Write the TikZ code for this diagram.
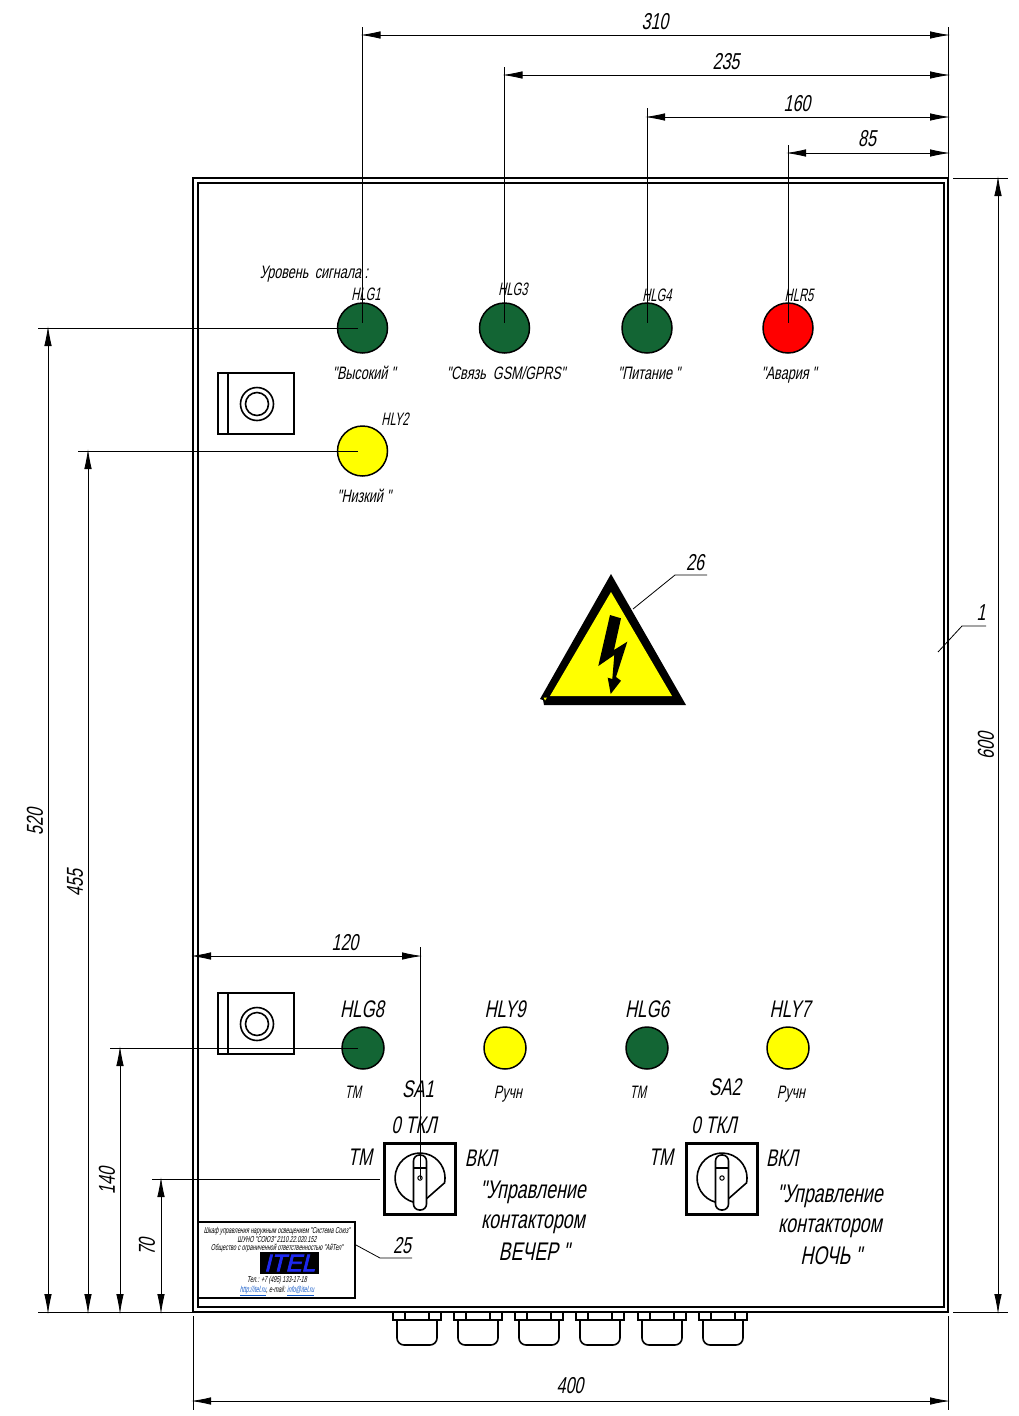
\documentclass[tikz,border=0pt]{standalone}
\usepackage{fontspec}
\setmainfont{Liberation Sans}
\newfontfamily\gostfont[FakeStretch=0.62,FakeSlant=0.2]{Liberation Sans}
\newfontfamily\widefont[FakeStretch=0.7,FakeSlant=0.2]{Liberation Sans}
\newfontfamily\logofont[FakeStretch=1.0,FakeSlant=0.25,FakeBold=3]{Liberation Sans}
\usetikzlibrary{arrows.meta, calc}
\definecolor{LampGreen}{RGB}{19,101,52}
\definecolor{LampYellow}{RGB}{255,255,0}
\definecolor{LampRed}{RGB}{255,0,0}
\definecolor{LogoBlue}{RGB}{30,40,240}
\definecolor{LinkBlue}{RGB}{20,90,200}
\tikzstyle{lamp} = [circle, draw=black, line width=1.5pt, inner sep=0pt, minimum size=50pt]
\tikzstyle{smalllamp} = [lamp, minimum size=42pt]
\tikzstyle{dimline} = [line width=0.8pt, shorten <=-2pt, shorten >=-2pt, {Latex[length=20pt,width=7.5pt]}-{Latex[length=20pt,width=7.5pt]}]
\tikzstyle{extline} = [line width=0.8pt]
\tikzstyle{outline} = [line width=2pt]
\tikzstyle{partline} = [line width=1.6pt]
\tikzstyle{dimtext} = [font=\widefont\fontsize{23}{23}\selectfont, inner sep=0pt]
\tikzstyle{tagtext} = [font=\gostfont\fontsize{18}{18}\selectfont, inner sep=0pt]
\tikzstyle{wordtext} = [font=\widefont\fontsize{18}{18}\selectfont, inner sep=0pt]
\tikzstyle{bigtag} = [font=\widefont\fontsize{24}{24}\selectfont, inner sep=0pt]
\tikzstyle{swtext} = [font=\widefont\fontsize{25.5}{25.5}\selectfont, inner sep=0pt]
\tikzstyle{platetext} = [font=\gostfont\fontsize{8.6}{8.6}\selectfont, inner sep=0pt]
\begin{document}
\begin{tikzpicture}[x=1pt,y=-1pt]
    \useasboundingbox (0,0) rectangle (1018,1416);

    % Cabinet body
    \draw[outline] (193,178) rectangle (948,1312);
    \draw[outline] (198,183) rectangle (944,1307);

    % Cable glands
    \foreach \x in {417,478,539,600,662,723} {
            \draw[partline] (\x-24,1312) rectangle (\x+24,1320);
            \draw[partline] (\x-12,1312) -- (\x-12,1320);
            \draw[partline] (\x+12,1312) -- (\x+12,1320);
            \draw[partline, rounded corners=7pt] (\x-20,1320) -- (\x-20,1345) -- (\x+20,1345) -- (\x+20,1320);
        }

    % Upper lamps
    \foreach \name/\x/\y/\col in {hlgone/362.5/328/LampGreen, hlgthree/504.5/328/LampGreen, hlgfour/647/328/LampGreen, hlrfive/788/328/LampRed, hlytwo/362.5/451/LampYellow} {
            \node[lamp, fill=\col] (\name) at (\x,\y) {};
        }

    % Lower lamps
    \foreach \name/\x/\col in {hlgeight/363/LampGreen, hlynine/505/LampYellow, hlgsix/647/LampGreen, hlyseven/788/LampYellow} {
            \node[smalllamp, fill=\col] (\name) at (\x,1048) {};
        }

    % Mounting blocks
    \foreach \y in {373,993} {
            \draw[partline] (218,\y) rectangle (294,\y+61);
            \draw[partline] (228,\y) -- (228,\y+61);
            \draw[partline] (257,\y+31) circle (16.5);
            \draw[partline] (257,\y+31) circle (11.5);
        }

    % Switches
    \foreach \name/\x in {saone/420,satwo/722} {
            \node[draw=black, line width=2.4pt, minimum size=71pt, inner sep=0pt] (\name) at (\x,1179) {};
            \draw[partline] (\x-6,1202.3) arc[start angle=104, end angle=371, radius=25] -- (\x+5,1200);
            \draw[partline, fill=white, rounded corners=6pt] (\x-6.5,1155) rectangle (\x+6.5,1210);
            \draw[partline] (\x-6.5,1168) -- (\x+6.5,1168);
            \draw[line width=1pt] (\x,1178) circle (2.2);
        }

    % Warning sign
    \fill[black] (611,574) -- (686,705) -- (544,705) -- (543,700) -- (540,699) -- cycle;
    \fill[LampYellow] (611,592) -- (672,696) -- (550,696) -- cycle;
    \fill[LampYellow] (543.5,697.5) -- (547,697.5) -- (545,700.5) -- cycle;
    \fill[black] (610,615) -- (621,618.3) -- (614,650) -- (627.3,641.7) -- (616,677) -- (621,680.7) -- (610.7,694) -- (607.7,677.7) -- (612.3,679) -- (614.3,655) -- (598.3,666) -- cycle;
    \coordinate (signtip) at (633,609);
    \coordinate (signknee) at (675,575);
    \coordinate (signend) at (707,575);
    \draw[extline] (signtip) -- (signknee) -- (signend);
    \node[dimtext] (signlabel) at (695,563) {26};

    % Plate
    \draw[outline] (198,1222) rectangle (355,1298);
    \node[platetext] (plateone) at (277,1231) {Шкаф управления наружным освещением "Система Союз"};
    \node[platetext] (platetwo) at (277,1239.5) {ШУНО "СОЮЗ" 2110.22.020.152};
    \node[platetext] (platethree) at (277,1248) {Общество с ограниченной ответственностью "АйТел"};
    \node[fill=black, minimum width=59pt, minimum height=22pt, inner sep=0pt, text=LogoBlue, font=\logofont\fontsize{24}{24}\selectfont] (logo) at (289.5,1263) {ITEL};
    \node[platetext] (platetel) at (277,1280) {Тел.: +7 (495) 133-17-18};
    \node[platetext] (platelink) at (277,1291) {\textcolor{LinkBlue}{\underline{http://itel.ru}}, e-mail: \textcolor{LinkBlue}{\underline{info@itel.ru}}};
    \coordinate (platetip) at (356,1245);
    \coordinate (plateknee) at (380,1258);
    \coordinate (plateend) at (412,1258);
    \draw[extline] (platetip) -- (plateknee) -- (plateend);
    \node[dimtext] (platelabel) at (402,1246) {25};

    % Cabinet leader
    \coordinate (bodytip) at (938,652);
    \coordinate (bodyknee) at (962,626);
    \coordinate (bodyend) at (986,626);
    \draw[extline] (bodytip) -- (bodyknee) -- (bodyend);
    \node[dimtext] (bodylabel) at (981,613) {1};

    % Top dimensions
    \draw[extline] (948,27) -- (948,178);
    \foreach \lamp/\y/\top in {hlgone/35/27, hlgthree/75/67, hlgfour/117/108, hlrfive/153/145} {
            \draw[extline] (\lamp.center |- 0,\top) -- ($(\lamp.center)+(0,-5)$);
            \draw[dimline] (\lamp.center |- 0,\y) -- (948,\y);
        }
    \node[dimtext] (dimtop) at (655,22) {310};
    \node[dimtext] (dimgsm) at (726,62) {235};
    \node[dimtext] (dimpower) at (797,104) {160};
    \node[dimtext] (dimalarm) at (867,139) {85};

    % Height dimensions
    \coordinate (bodytop) at (998,178);
    \coordinate (bodybottom) at (998,1312);
    \draw[extline] (953,178) -- (1008,178);
    \draw[extline] (953,1312) -- (1008,1312);
    \draw[dimline] (bodytop) -- (bodybottom);
    \node[dimtext, rotate=90] (dimheight) at (986,746) {600};

    \draw[extline] (38,1312) -- (193,1312);
    \foreach \lamp/\x in {hlgone/48, hlytwo/88, hlgeight/120} {
            \draw[extline] (\x-10,0 |- \lamp.center) -- ($(\lamp.center)+(-5,0)$);
            \draw[dimline] (\x,0 |- \lamp.center) -- (\x,1312);
        }
    \draw[extline] (152,1179) -- (380,1179);
    \draw[dimline] (161,1179) -- (161,1312);
    \node[dimtext, rotate=90] (dimhigh) at (35,822) {520};
    \node[dimtext, rotate=90] (dimlow) at (75,883) {455};
    \node[dimtext, rotate=90] (dimlamps) at (107,1181) {140};
    \node[dimtext, rotate=90] (dimswitch) at (147,1247) {70};

    % Width dimensions
    \draw[extline] (193,1316) -- (193,1410);
    \draw[extline] (948,1316) -- (948,1410);
    \draw[dimline] (193,1401) -- (948,1401);
    \node[dimtext] (dimwidth) at (570,1386) {400};
    \draw[extline] (saone.center |- 0,947) -- (saone.center);
    \draw[dimline] (193,956) -- (saone.center |- 0,956);
    \node[dimtext] (dimswitchx) at (345,943) {120};

    % Upper labels
    \node[wordtext] (signaltitle) at (314,274) {Уровень\, сигнала :};
    \node[tagtext] (tagone) at (366,294) {HLG1};
    \node[tagtext] (tagthree) at (513,289) {HLG3};
    \node[tagtext] (tagfour) at (657,295) {HLG4};
    \node[tagtext] (tagfive) at (799,295) {HLR5};
    \node[tagtext] (tagtwo) at (395,419) {HLY2};
    \node[wordtext] (textone) at (364,373) {"Высокий "};
    \node[wordtext] (textthree) at (506,373) {"Связь~~GSM/GPRS"};
    \node[wordtext] (textfour) at (649,373) {"Питание "};
    \node[wordtext] (textfive) at (789,375) {"Авария "};
    \node[wordtext] (texttwo) at (364,496) {"Низкий "};

    % Lower labels
    \node[bigtag] (tageight) at (362,1009) {HLG8};
    \node[bigtag] (tagnine) at (505,1009) {HLY9};
    \node[bigtag] (tagsix) at (647,1009) {HLG6};
    \node[bigtag] (tagseven) at (790,1009) {HLY7};
    \node[tagtext] (texteight) at (353,1092) {ТМ};
    \node[wordtext] (textnine) at (508,1094) {Ручн};
    \node[tagtext] (textsix) at (638,1092) {ТМ};
    \node[wordtext] (textseven) at (791,1094) {Ручн};
    \node[bigtag] (nameone) at (418,1089) {SA1};
    \node[bigtag] (nametwo) at (725,1087) {SA2};

    % Switch positions
    \foreach \name/\x/\dx in {one/414/0,two/714/301} {
            \node[bigtag] (off\name) at (\x,1125) {0 ТКЛ};
            \node[bigtag] (tm\name) at (360+\dx,1157) {ТМ};
            \node[bigtag] (on\name) at (481+\dx,1158) {ВКЛ};
        }

    % Switch captions
    \node[swtext] (capone) at (533,1192) {"Управление};
    \node[swtext] (captwo) at (533,1224) {контактором};
    \node[swtext] (capthree) at (534,1252) {ВЕЧЕР "};
    \node[swtext] (capfour) at (830,1196) {"Управление};
    \node[swtext] (capfive) at (830,1228) {контактором};
    \node[swtext] (capsix) at (831,1256) {НОЧЬ "};
\end{tikzpicture}
\end{document}
